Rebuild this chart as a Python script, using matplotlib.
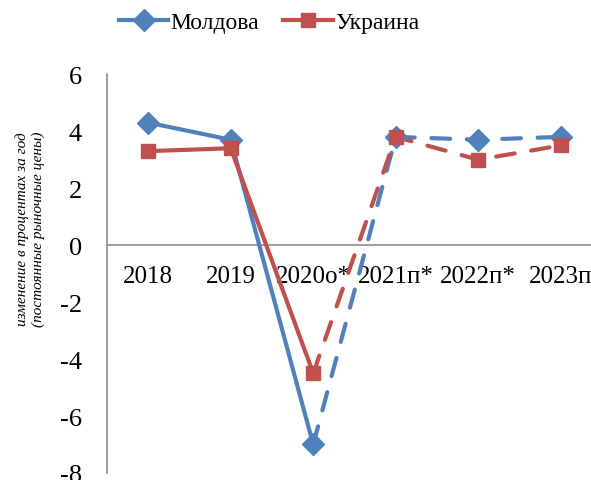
import matplotlib
matplotlib.use("Agg")
import matplotlib.pyplot as plt
from matplotlib.lines import Line2D

# ===== DATOS =====

years = ["2018", "2019", "2020о*", "2021п*", "2022п*", "2023п"]
moldova = [4.3, 3.7, -7.0, 3.8, 3.7, 3.8]
ukraine = [3.3, 3.4, -4.5, 3.8, 3.0, 3.5]

BLUE = "#4F81BD"
RED = "#C0504D"
GRAY = "#8C8C8C"

plt.rcParams["font.family"] = ["Liberation Serif", "DejaVu Serif"]
plt.rcParams["axes.unicode_minus"] = False

fig = plt.figure(figsize=(5.91, 4.81), dpi=100)
ax = fig.add_axes([0.181, 0.0146, 0.8376, 0.829])

x = list(range(len(years)))

# solid part (facts), dashed part (estimates/forecast)
series = [(moldova, BLUE, "D", 11), (ukraine, RED, "s", 10)]
for vals, col, mk, ms in series:
    ax.plot(x[:3], vals[:3], color=col, lw=3, solid_capstyle="round", zorder=3)
    ax.plot(x[2:], vals[2:], color=col, lw=3, dashes=(4.5, 4),
            dash_capstyle="round", zorder=3)
    ax.plot(x, vals, ls="none", marker=mk, ms=ms, color=col, zorder=4)

ax.set_xlim(-0.5, 5.5)
ax.set_ylim(-8, 6)
ax.set_yticks(range(-8, 7, 2))
ax.set_xticks(x)
ax.set_xticklabels(years)

for s in ["top", "right"]:
    ax.spines[s].set_visible(False)
ax.spines["bottom"].set_position(("data", 0))
ax.spines["bottom"].set_color(GRAY)
ax.spines["left"].set_color(GRAY)
ax.spines["bottom"].set_linewidth(1.2)
ax.spines["left"].set_linewidth(1.2)

ax.tick_params(axis="y", length=0, pad=18, labelsize=19)
ax.tick_params(axis="x", length=0, pad=14, labelsize=18)

fig.text(30 / 591, 1 - 229 / 481,
         "изменение в процентах за год\n(постоянные рыночные цены)",
         rotation=90, ha="center", va="center", style="italic",
         fontsize=11, linespacing=1.25)

handles = [
    Line2D([], [], color=BLUE, lw=3, marker="D", ms=11),
    Line2D([], [], color=RED, lw=3, marker="s", ms=10),
]
fig.legend(handles, ["Молдова", "Украина"], loc="center",
           bbox_to_anchor=(0.455, 1 - 23 / 481), ncol=2, frameon=False,
           fontsize=17, handlelength=2.1, handletextpad=0.1,
           columnspacing=1.0)

fig.savefig("out.png", dpi=100)
